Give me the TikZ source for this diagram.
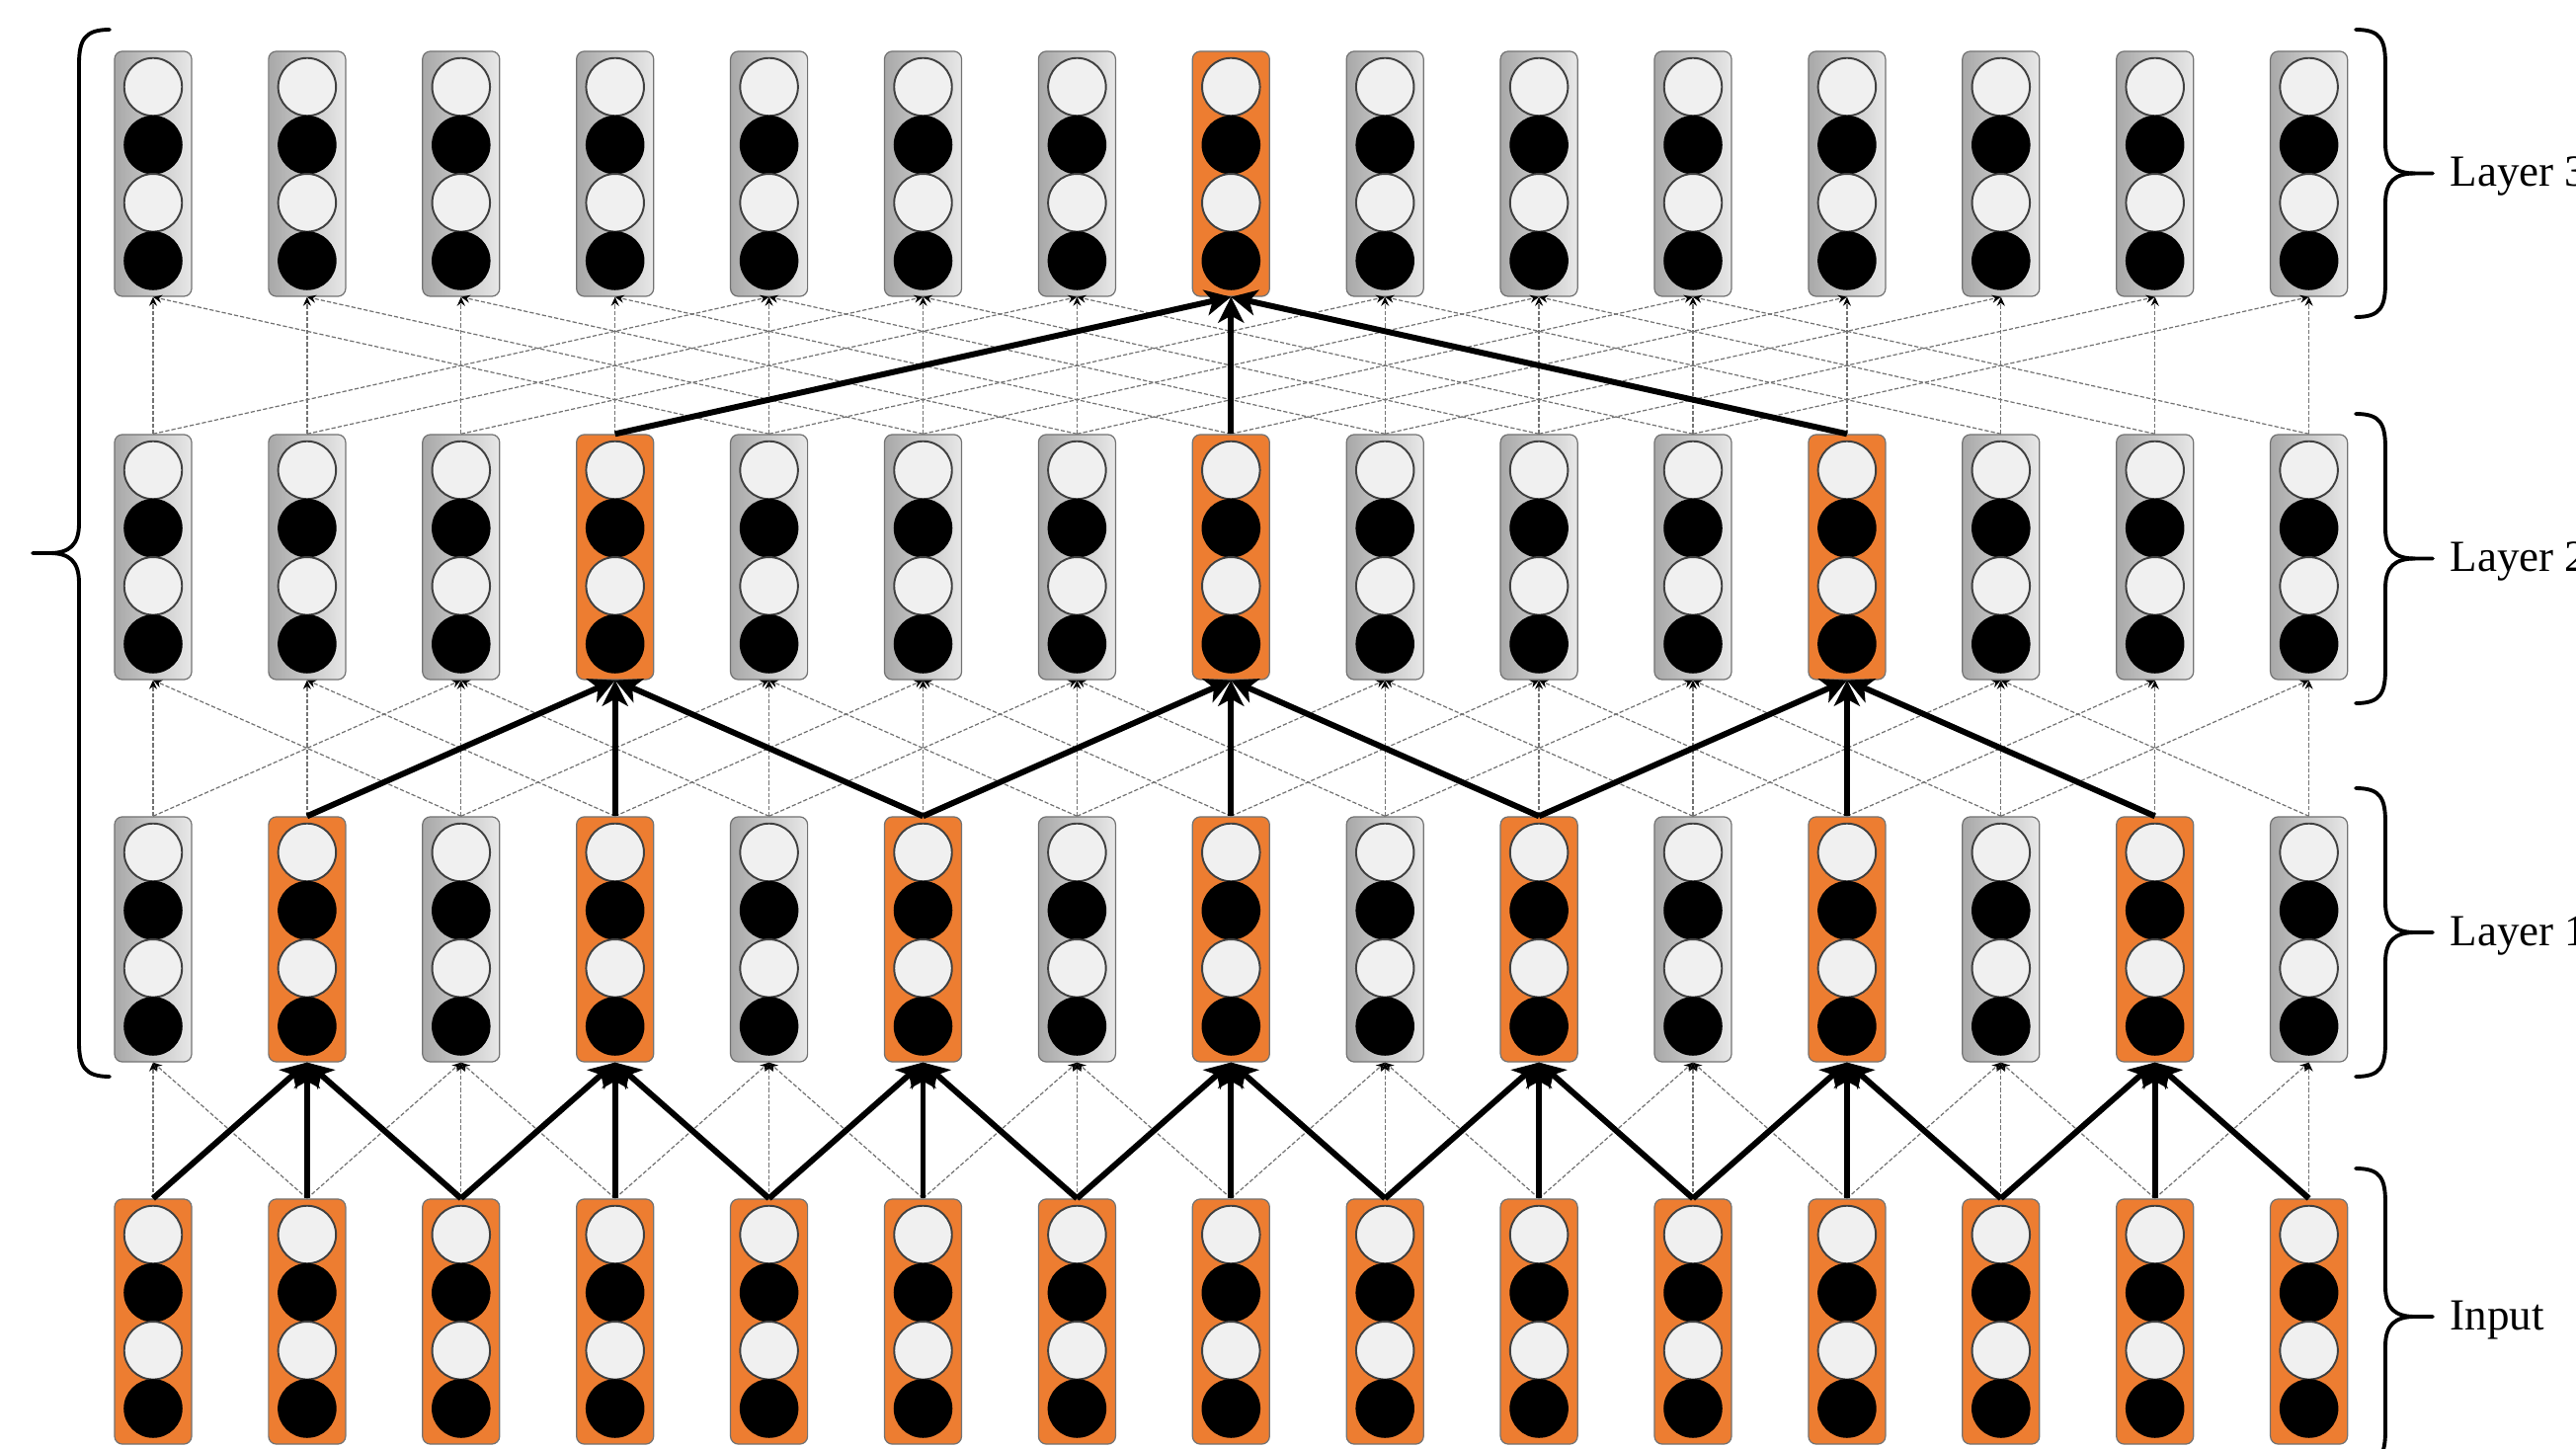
\documentclass[tikz,border=0pt]{standalone}
\usepackage{fontspec}
\setmainfont{Liberation Serif}
\usetikzlibrary{arrows.meta}
\definecolor{orng}{HTML}{ED7D31}
\definecolor{gdark}{HTML}{A8A8A8}
\definecolor{glight}{HTML}{E8E8E8}
\definecolor{cwhite}{HTML}{F0F0F0}
\begin{document}
\begin{tikzpicture}[x=0.01cm,y=-0.01cm,
  unitbox/.style={rounded corners=0.08cm, minimum width=0.78cm, minimum height=2.48cm, draw=black!55, line width=0.35pt, inner sep=0pt},
  graybox/.style={unitbox, left color=gdark, right color=glight},
  orangebox/.style={unitbox, fill=orng},
  wcirc/.style={circle, minimum size=0.585cm, inner sep=0pt, fill=cwhite, draw=black!75, line width=0.55pt},
  bcirc/.style={circle, minimum size=0.595cm, inner sep=0pt, fill=black},
  thinlink/.style={dash pattern=on 1.2pt off 0.6pt, draw=black!55, line width=0.35pt, -{Stealth[length=0.09cm,width=0.08cm,black]}},
  boldlink/.style={line width=1.7pt, -{Stealth[length=0.26cm,width=0.26cm,inset=0.07cm]}},
  lbl/.style={font=\fontsize{12.8}{15}\selectfont, anchor=base west, inner sep=0pt},
  bracepath/.style={line width=1.1pt, line cap=round}
]
\useasboundingbox (0,0) rectangle (2608,1467);

% boxes and circles
\foreach \r/\y in {0/1338,1/951,2/564,3/176} {
  \foreach \i in {0,...,14} {
    \pgfmathsetmacro\cx{155+155.9*\i}
    \pgfmathtruncatemacro\isor{(\r==0) || (\r==1 && mod(\i,2)==1) || (\r==2 && mod(\i,4)==3) || (\r==3 && \i==7)}
    \ifnum\isor=1
      \node[orangebox] (B\r-\i) at (\cx,\y) {};
    \else
      \node[graybox] (B\r-\i) at (\cx,\y) {};
    \fi
    \node[wcirc] (B\r-\i-a) at (\cx,\y-88) {};
    \node[bcirc] (B\r-\i-b) at (\cx,\y-29.3) {};
    \node[wcirc] (B\r-\i-c) at (\cx,\y+29.3) {};
    \node[bcirc] (B\r-\i-d) at (\cx,\y+88) {};
  }
}

% dashed connections (all)
\foreach \r/\d in {1/1,2/2,3/4} {
  \pgfmathtruncatemacro\rp{\r-1}
  \foreach \i in {0,...,14} {
    \foreach \s in {-1,0,1} {
      \pgfmathtruncatemacro\j{\i+\s*\d}
      \ifnum\j>-1 \ifnum\j<15
        \draw[thinlink] (B\rp-\j.north) -- (B\r-\i.south);
      \fi\fi
    }
  }
}

% bold path
\foreach \i in {1,3,...,13} {
  \foreach \s in {-1,0,1} {
    \pgfmathtruncatemacro\j{\i+\s}
    \draw[boldlink] (B0-\j.north) -- (B1-\i.south);
  }
}
\foreach \i in {3,7,11} {
  \foreach \s in {-2,0,2} {
    \pgfmathtruncatemacro\j{\i+\s}
    \draw[boldlink] (B1-\j.north) -- (B2-\i.south);
  }
}
\foreach \j in {3,7,11} {
  \draw[boldlink] (B2-\j.north) -- (B3-7.south);
}

% right braces and labels
\foreach \t/\b/\n/\txt in {30/321/3/Layer 3, 419/712/2/Layer 2, 798/1090/1/Layer 1, 1183/1483/0/Input} {
  \pgfmathsetmacro\m{(\t+\b)/2}
  \draw[bracepath] (2385,\t) .. controls (2410,\t) and (2415,\t+10) .. (2415,\t+35)
     -- (2415,\m-30) .. controls (2415,\m-8) and (2425,\m) .. (2445,\m) -- (2463,\m);
  \draw[bracepath] (2385,\b) .. controls (2410,\b) and (2415,\b-10) .. (2415,\b-35)
     -- (2415,\m+30) .. controls (2415,\m+8) and (2425,\m) .. (2445,\m);
  \node[lbl] (lab\n) at (2480,\m+13) {\txt};
}

% left brace
\draw[bracepath] (111,30) .. controls (86,30) and (80,40) .. (80,65)
   -- (80,530) .. controls (80,552) and (70,560) .. (50,560) -- (33,560);
\draw[bracepath] (111,1090) .. controls (86,1090) and (80,1080) .. (80,1055)
   -- (80,590) .. controls (80,568) and (70,560) .. (50,560);
\end{tikzpicture}
\end{document}
